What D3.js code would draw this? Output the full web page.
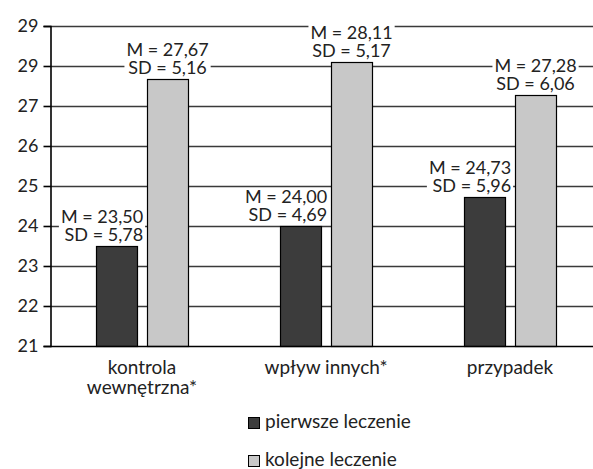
<!DOCTYPE html>
<html>
<head>
<meta charset="utf-8">
<script src="https://cdn.jsdelivr.net/npm/d3@7"></script>
<style>
  body { margin: 0; background: #fff; }
  svg { display: block; font-family: Lato, "DejaVu Sans", sans-serif; }
</style>
</head>
<body>
<div class="container"></div>
<script>
const categories = ["kontrola wewnętrzna*", "wpływ innych*", "przypadek"];
const categoryLines = [["kontrola", "wewnętrzna*"], ["wpływ innych*"], ["przypadek"]];
const series = ["pierwsze leczenie", "kolejne leczenie"];
const firstMeans = [23.50, 24.00, 24.73];
const firstSD = [5.78, 4.69, 5.96];
const nextMeans = [27.67, 28.11, 27.28];
const nextSD = [5.16, 5.17, 6.06];
const tickValues = [21, 22, 23, 24, 25, 26, 27, 28, 29];
const tickLabels = ["21", "22", "23", "24", "25", "26", "27", "29", "29"];

const w = 593, h = 469;
const colors = ["#3c3c3c", "#c8c8c8"];

const pl = d3.formatLocale({ decimal: ",", thousands: " ", grouping: [3], currency: ["", " zł"] });
const fmt = pl.format(".2f");

// one row per bar
const rows = [];
categories.forEach((c, i) => {
  rows.push({ cat: c, s: series[0], m: firstMeans[i], sd: firstSD[i] });
  rows.push({ cat: c, s: series[1], m: nextMeans[i], sd: nextSD[i] });
});

const y = d3.scaleLinear().domain([21, 29]).range([346, 26]);

const x0 = d3.scaleBand()
  .domain(categories)
  .range([50, 602])
  .paddingInner(0.5)
  .paddingOuter(0.25);

const x1 = d3.scaleBand()
  .domain(series)
  .range([0, x0.bandwidth()])
  .paddingInner(0.2);

const color = d3.scaleOrdinal().domain(series).range(colors);

const svg = d3.select(".container")
  .append("svg")
  .attr("width", w)
  .attr("height", h)
  .attr("viewBox", [0, 0, w, h]);

// gridlines
svg.append("g")
  .selectAll("line")
  .data(tickValues.slice(1))
  .join("line")
  .attr("x1", 50)
  .attr("x2", w)
  .attr("y1", d => Math.round(y(d)) + 0.5)
  .attr("y2", d => Math.round(y(d)) + 0.5)
  .attr("stroke", "#3a3a3a")
  .attr("stroke-width", 1.6);

// bars
svg.append("g")
  .selectAll("rect")
  .data(rows)
  .join("rect")
  .attr("x", d => Math.round(x0(d.cat) + x1(d.s)) + 0.5)
  .attr("y", d => Math.round(y(d.m)) + 0.5)
  .attr("width", Math.round(x1.bandwidth()))
  .attr("height", d => y(21) - Math.round(y(d.m)))
  .attr("fill", d => color(d.s))
  .attr("stroke", "#000")
  .attr("stroke-width", 1.2);

// y axis
const yAxis = svg.append("g")
  .attr("transform", "translate(50.5,0)")
  .call(d3.axisLeft(y)
    .tickValues(tickValues)
    .tickSize(7)
    .tickPadding(5)
    .tickFormat((d, i) => tickLabels[i]));
yAxis.select(".domain").attr("stroke", "#000").attr("stroke-width", 1.6);
yAxis.selectAll(".tick line").attr("stroke", "#000").attr("stroke-width", 1.6);
yAxis.selectAll(".tick text")
  .attr("font-family", "Lato, 'DejaVu Sans', sans-serif")
  .attr("font-size", 18)
  .attr("fill", "#222");

// baseline
svg.append("line")
  .attr("x1", 50).attr("x2", w)
  .attr("y1", y(21) + 0.5).attr("y2", y(21) + 0.5)
  .attr("stroke", "#000")
  .attr("stroke-width", 1.6);

// value labels with white boxes
const labels = svg.append("g").selectAll("g")
  .data(rows)
  .join("g")
  .attr("transform", d => {
    const top = Math.round(y(d.m));
    let lx;
    if (d.s === series[0]) {
      lx = x0(d.cat) + x1(series[1]) - 4;
      d.anchor = "end";
    } else {
      lx = x0(d.cat) + x1(d.s) + x1.bandwidth() / 2;
      d.anchor = "middle";
    }
    return `translate(${lx},${top})`;
  });

labels.append("rect").attr("fill", "#fff");

const txt = labels.append("text")
  .attr("text-anchor", d => d.anchor)
  .attr("font-size", 18)
  .attr("fill", "#222");
txt.append("tspan").attr("x", 0).attr("y", -23).text(d => "M = " + fmt(d.m));
txt.append("tspan").attr("x", 0).attr("y", -5).text(d => "SD = " + fmt(d.sd));

labels.each(function () {
  const g = d3.select(this);
  const b = g.select("text").node().getBBox();
  g.select("rect")
    .attr("x", b.x - 2)
    .attr("y", -38)
    .attr("width", b.width + 4)
    .attr("height", 36);
});

// category labels
svg.append("g")
  .selectAll("text")
  .data(categories)
  .join("text")
  .attr("text-anchor", "middle")
  .attr("font-size", 19)
  .attr("fill", "#222")
  .each(function (d, i) {
    const t = d3.select(this);
    categoryLines[i].forEach((line, j) => {
      t.append("tspan")
        .attr("x", x0(d) + x0.bandwidth() / 2)
        .attr("y", 374 + j * 20)
        .text(line);
    });
  });

// legend
const legend = svg.append("g")
  .selectAll("g")
  .data(series)
  .join("g")
  .attr("transform", (d, i) => `translate(248,${417 + i * 38})`);

legend.append("rect")
  .attr("x", 0.5).attr("y", 0.5)
  .attr("width", 11).attr("height", 11)
  .attr("fill", d => color(d))
  .attr("stroke", "#000")
  .attr("stroke-width", 1);

legend.append("text")
  .attr("x", 17)
  .attr("y", 11)
  .attr("font-size", 19)
  .attr("fill", "#222")
  .text(d => d);
</script>
</body>
</html>
